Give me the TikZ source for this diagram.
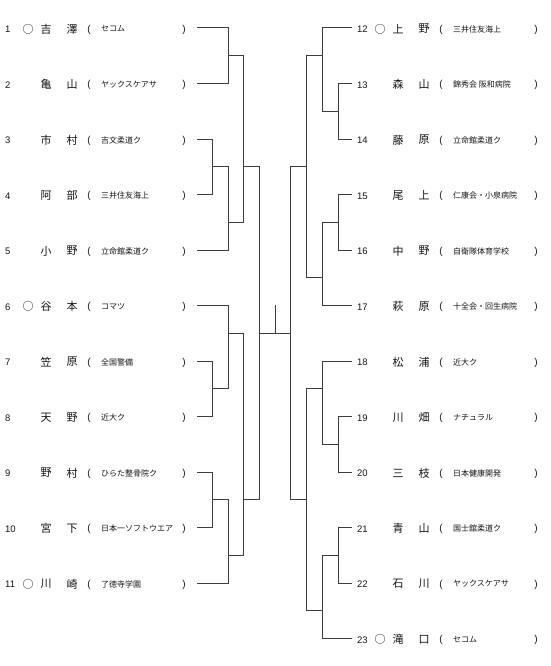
\documentclass[tikz,border=0pt]{standalone}
\usepackage{fontspec}
\setmainfont{Liberation Sans}
\newfontfamily\jp{Noto Sans CJK JP}
\definecolor{linegray}{RGB}{60,60,60}
\definecolor{txt}{RGB}{20,20,20}
\tikzset{
  num/.style={anchor=west,font=\fontsize{9.5}{10}\selectfont,inner sep=0pt,text=txt},
  nm/.style={anchor=center,font=\jp\fontsize{11}{12}\selectfont,inner sep=0pt,text=txt},
  par/.style={anchor=center,font=\fontsize{10}{11}\selectfont,inner sep=0pt,text=txt},
  aff/.style={anchor=west,font=\jp\fontsize{8}{9}\selectfont,inner sep=0pt,text=txt},
  br/.style={draw=linegray,line width=1pt},
}
% #1 id, #2 x offset, #3 y, #4 mark, #5 char1, #6 char2, #7 affiliation
\newcommand\Entry[7]{%
  \node[num] (n#1) at (#2+5,#3+1.5) {#1};
  \node[nm]  (m#1) at (#2+28,#3+1) {#4};
  \node[nm]  (a#1) at (#2+46,#3+1) {#5};
  \node[nm]  (b#1) at (#2+72,#3+1) {#6};
  \node[par] (o#1) at (#2+89,#3+1.5) {(};
  \node[aff] (t#1) at (#2+101,#3+1) {#7};
  \node[par] (c#1) at (#2+184,#3+1.5) {)};
}
\begin{document}
\begin{tikzpicture}[x=1pt,y=-1pt]
\useasboundingbox (0,0) rectangle (550,666);
% left entries
\Entry{1}{0}{28}{○}{吉}{澤}{セコム}
\Entry{2}{0}{83.5}{}{亀}{山}{ヤックスケアサ}
\Entry{3}{0}{139}{}{市}{村}{吉文柔道ク}
\Entry{4}{0}{194.5}{}{阿}{部}{三井住友海上}
\Entry{5}{0}{250}{}{小}{野}{立命館柔道ク}
\Entry{6}{0}{305.5}{○}{谷}{本}{コマツ}
\Entry{7}{0}{361}{}{笠}{原}{全国警備}
\Entry{8}{0}{416.5}{}{天}{野}{近大ク}
\Entry{9}{0}{472}{}{野}{村}{ひらた整骨院ク}
\Entry{10}{0}{527.5}{}{宮}{下}{日本一ソフトウエア}
\Entry{11}{0}{583}{○}{川}{崎}{了徳寺学園}
% right entries
\Entry{12}{352}{28}{○}{上}{野}{三井住友海上}
\Entry{13}{352}{83.5}{}{森}{山}{錦秀会 阪和病院}
\Entry{14}{352}{139}{}{藤}{原}{立命館柔道ク}
\Entry{15}{352}{194.5}{}{尾}{上}{仁康会・小泉病院}
\Entry{16}{352}{250}{}{中}{野}{自衛隊体育学校}
\Entry{17}{352}{305.5}{}{萩}{原}{十全会・回生病院}
\Entry{18}{352}{361}{}{松}{浦}{近大ク}
\Entry{19}{352}{416.5}{}{川}{畑}{ナチュラル}
\Entry{20}{352}{472}{}{三}{枝}{日本健康開発}
\Entry{21}{352}{527.5}{}{青}{山}{国士舘柔道ク}
\Entry{22}{352}{583}{}{石}{川}{ヤックスケアサ}
\Entry{23}{352}{638.5}{○}{滝}{口}{セコム}
% line ends
\foreach \i/\y in {1/28,2/83.5,3/139,4/194.5,5/250,6/305.5,7/361,8/416.5,9/472,10/527.5,11/583}
  \coordinate (e\i) at (197,\y);
\foreach \i/\y in {12/28,13/83.5,14/139,15/194.5,16/250,17/305.5,18/361,19/416.5,20/472,21/527.5,22/583,23/638.5}
  \coordinate (e\i) at (352,\y);
% left bracket, top half
\draw[br] (e1) -| (228,83.5) -- (e2);
\draw[br] (e3) -| (212,194.5) -- (e4);
\draw[br] (212,166.75) -- (228,166.75) |- (e5);
\draw[br] (228,55.75) -| (243,222.25) -- (228,222.25);
% left bracket, bottom half
\draw[br] (e7) -| (212,416.5) -- (e8);
\draw[br] (e6) -| (228,388.75) -- (212,388.75);
\draw[br] (e9) -| (212,527.5) -- (e10);
\draw[br] (212,499.75) -- (228,499.75) |- (e11);
\draw[br] (228,333.25) -| (243,555.25) -- (228,555.25);
% left semifinal
\draw[br] (243,166.5) -| (259,499.5) -- (243,499.5);
% final
\coordinate (fl) at (259,333);
\coordinate (fr) at (290,333);
\coordinate (tk) at (275,305);
\draw[br] (fl) -- (fr);
\draw[br] (tk) -- (275,333);
% right semifinal
\draw[br] (306,166.5) -| (290,499.5) -- (306,499.5);
% right top half
\draw[br] (e12) -| (322,111.25) -- (338,111.25);
\draw[br] (e13) -| (338,139) -- (e14);
\draw[br] (322,55.75) -| (306,277.5) -- (322,277.5);
\draw[br] (e15) -| (338,250) -- (e16);
\draw[br] (338,222.25) -| (322,305.5) -- (e17);
% right bottom half
\draw[br] (e18) -| (322,444.25) -- (338,444.25);
\draw[br] (e19) -| (338,472) -- (e20);
\draw[br] (322,388.75) -| (306,610.75) -- (322,610.75);
\draw[br] (e21) -| (338,583) -- (e22);
\draw[br] (338,555.25) -| (322,638.5) -- (e23);
\end{tikzpicture}
\end{document}
